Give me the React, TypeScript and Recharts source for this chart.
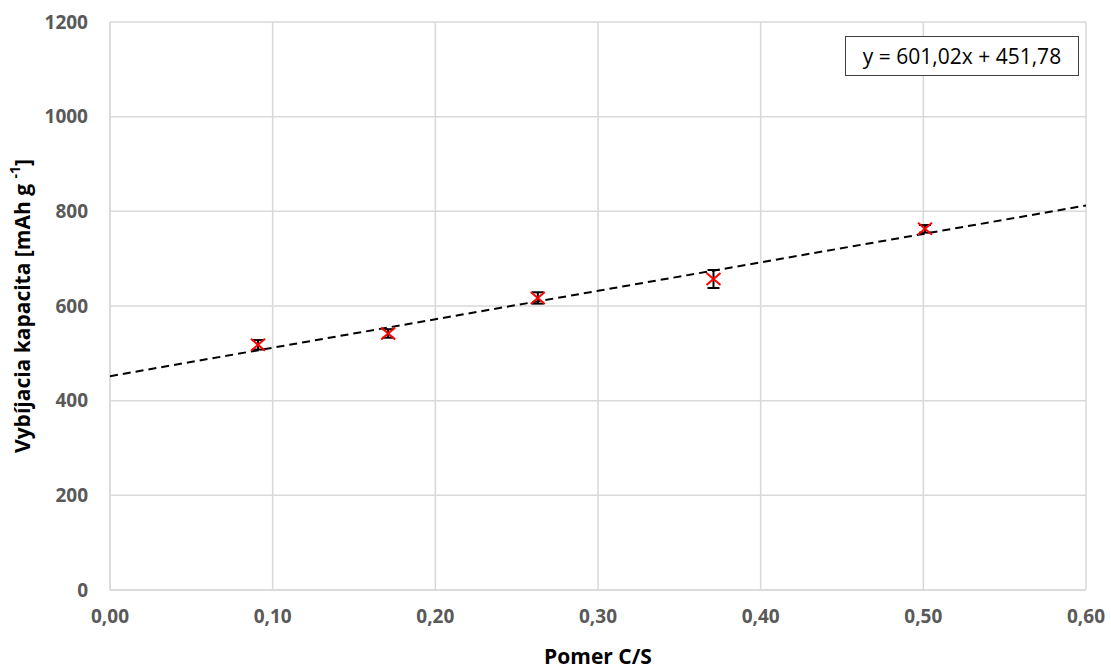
import React from "react";
import {
	CartesianGrid,
	ErrorBar,
	Label,
	Scatter,
	ScatterChart,
	XAxis,
	YAxis,
} from "recharts";

// measured points: C/S ratio vs discharge capacity
const ratios = [0.091, 0.171, 0.263, 0.371, 0.501];
const capacities = [518, 542, 617, 657, 763];
const errors = [10, 9, 12, 19, 8];

// linear trend from the chart's fit
const slope = 601.02;
const intercept = 451.78;
const trendX = [0, 0.6];

const xTicks = [0, 0.1, 0.2, 0.3, 0.4, 0.5, 0.6];
const yTicks = [0, 200, 400, 600, 800, 1000, 1200];

const points = ratios.map((x, i) => ({
	x,
	y: capacities[i],
	err: errors[i],
}));
const trend = trendX.map((x) => ({ x, y: slope * x + intercept }));

const FONT = "'Open Sans', 'Liberation Sans', sans-serif";

function CrossMarker(props: any) {
	const { cx, cy } = props;
	if (cx == null || cy == null) return null;
	const s = 7;
	return (
		<g stroke="#ff0000" strokeWidth={2}>
			<line x1={cx - s} y1={cy - s + 1} x2={cx + s} y2={cy + s - 1} />
			<line x1={cx - s} y1={cy + s - 1} x2={cx + s} y2={cy - s + 1} />
		</g>
	);
}

function YLabel(props: any) {
	const { viewBox } = props;
	const cx = 22;
	const cy = viewBox.y + viewBox.height / 2;
	return (
		<text
			x={cx}
			y={cy}
			transform={`rotate(-90 ${cx} ${cy})`}
			textAnchor="middle"
			dominantBaseline="central"
			fontFamily={FONT}
			fontWeight={700}
			fontSize={21}
			fill="#000"
		>
			Vybíjacia kapacita [mAh g{" "}
			<tspan fontSize={14} dy={-8}>
				-1
			</tspan>
			<tspan dy={8}>]</tspan>
		</text>
	);
}

export default function App() {
	return (
		<div
			style={{
				position: "absolute",
				left: 0,
				top: 0,
				width: 1111,
				height: 672,
				background: "#fff",
			}}
		>
			<ScatterChart
				width={1111}
				height={672}
				margin={{ top: 22, right: 25, bottom: 0, left: 40 }}
			>
				<CartesianGrid stroke="#d9d9d9" strokeWidth={1.5} />
				<XAxis
					type="number"
					dataKey="x"
					domain={[0, 0.6]}
					ticks={xTicks}
					tickFormatter={(v: number) => v.toFixed(2).replace(".", ",")}
					stroke="#d9d9d9"
					strokeWidth={1.5}
					tickLine={false}
					tickMargin={14}
					height={82}
					tick={{ fill: "#595959", fontSize: 19, fontWeight: 700, fontFamily: FONT }}
					allowDataOverflow
				>
					<Label
						value="Pomer C/S"
						position="insideBottom"
						offset={8}
						style={{ fill: "#000", fontSize: 21, fontWeight: 700, fontFamily: FONT }}
					/>
				</XAxis>
				<YAxis
					type="number"
					dataKey="y"
					domain={[0, 1200]}
					ticks={yTicks}
					stroke="#d9d9d9"
					strokeWidth={1.5}
					tickLine={false}
					tickSize={0}
					tickMargin={22}
					width={70}
					tick={{ fill: "#595959", fontSize: 19, fontWeight: 700, fontFamily: FONT }}
					allowDataOverflow
				>
					<Label content={<YLabel />} />
				</YAxis>
				<Scatter
					data={trend}
					line={{ stroke: "#000", strokeWidth: 2, strokeDasharray: "8 5" }}
					shape={() => null}
					isAnimationActive={false}
				/>
				<Scatter data={points} shape={<CrossMarker />} isAnimationActive={false}>
					<ErrorBar
						dataKey="err"
						direction="y"
						width={6}
						stroke="#000"
						strokeWidth={2}
						isAnimationActive={false}
					/>
				</Scatter>
			</ScatterChart>
			<div
				style={{
					position: "absolute",
					left: 845,
					top: 36,
					width: 234,
					height: 40,
					boxSizing: "border-box",
					border: "1px solid #404040",
					background: "#fff",
					fontFamily: FONT,
					fontSize: 21,
					color: "#000",
					display: "flex",
					alignItems: "center",
					justifyContent: "center",
				}}
			>
				y = 601,02x + 451,78
			</div>
		</div>
	);
}
